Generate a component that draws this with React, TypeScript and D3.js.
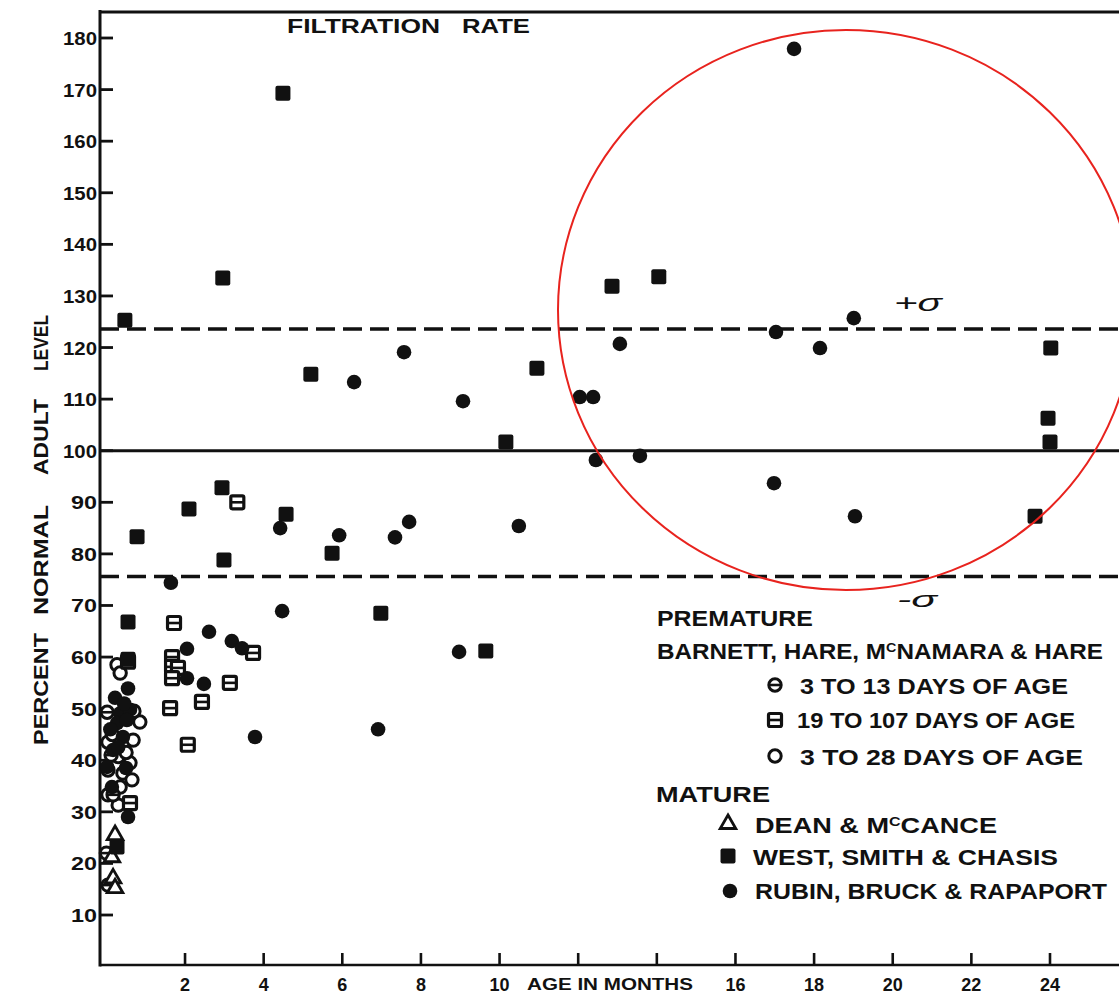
import React from 'react';
import * as d3 from 'd3';

const W = 1119;
const H = 996;

// ---------- DATA (age in months, percent of normal adult level) ----------
// Premature: Barnett, Hare, McNamara & Hare — 3 to 13 days (theta circle)
const thetaMonths = [0.02, 0.0, 0.04, 0.04, 0.17, 0.12];
const thetaPct = [49.3, 22.0, 15.8, 38.1, 33.3, 41.0];

// Premature — 19 to 107 days (boxed square)
const boxMonths = [3.33, 1.72, 1.67, 1.67, 1.82, 1.67, 1.62, 2.43, 3.14, 2.07, 3.73, 0.55, 0.6];
const boxPct = [90.0, 66.6, 60.0, 58.1, 57.9, 55.9, 50.1, 51.3, 55.0, 43.0, 60.8, 59.1, 31.7];

// Premature — 3 to 28 days (open circle)
const openMonths = [0.27, 0.35, 0.85, 0.68, 0.04, 0.3, 0.6, 0.42, 0.65, 0.35, 0.04, 0.3, 0.7, 0.15, 0.5];
const openPct = [58.5, 56.9, 47.4, 43.9, 43.5, 40.7, 39.5, 37.5, 36.2, 34.8, 33.3, 31.3, 49.5, 45.0, 41.5];

// Mature: Dean & McCance (open triangle)
const deanMonths = [0.22, 0.14, 0.17, 0.22];
const deanPct = [25.5, 21.2, 17.1, 15.2];

// Mature: West, Smith & Chasis (filled square)
const wscMonths = [0.47, 4.49, 2.96, 5.2, 0.78, 2.1, 2.94, 4.57, 2.99, 5.74, 6.98, 9.65, 0.55, 10.16, 10.95, 12.86, 14.05, 24.02, 23.95, 24.0, 23.62, 0.27, 0.55];
const wscPct = [125.3, 169.3, 133.5, 114.8, 83.3, 88.7, 92.8, 87.7, 78.8, 80.1, 68.5, 61.2, 66.8, 101.7, 116.0, 131.9, 133.7, 119.9, 106.3, 101.7, 87.3, 23.2, 59.6];

// Mature: Rubin, Bruck & Rapaport (filled circle)
const rbrMonths = [17.49, 7.57, 6.3, 9.07, 12.04, 12.38, 13.06, 12.45, 13.57, 17.03, 18.15, 19.01, 16.98, 19.04, 10.49, 4.42, 5.92, 7.34, 7.7, 1.64, 4.47, 2.61, 2.05, 3.19, 3.45, 8.97, 2.05, 2.48, 3.78, 6.91, 0.55, 0.55, 0.22, 0.35, 0.6, 0.27, 0.52, 0.42, 0.17, 0.02, 0.14, 0.45, 0.3, 0.1, 0.5];
const rbrPct = [177.9, 119.1, 113.3, 109.6, 110.4, 110.4, 120.7, 98.2, 99.0, 123.0, 119.9, 125.7, 93.7, 87.3, 85.4, 85.0, 83.6, 83.2, 86.2, 74.4, 68.9, 64.9, 61.6, 63.1, 61.7, 61.0, 55.9, 54.8, 44.5, 46.0, 53.9, 29.0, 52.1, 49.1, 49.8, 47.2, 47.8, 44.5, 42.0, 38.7, 34.8, 51.0, 42.5, 46.0, 38.5];

// Reference levels
const adultLevel = 100;
const plusSigma = 123.6;
const minusSigma = 75.6;

// Tick labels
const yTicks = [10, 20, 30, 40, 50, 60, 70, 80, 90, 100, 110, 120, 130, 140, 150, 160, 170, 180];
const xTicks = [2, 4, 6, 8, 10, 12, 14, 16, 18, 20, 22, 24];
const xTickLabels = [2, 4, 6, 8, 10, 16, 18, 20, 22, 24];

// ---------- SCALES ----------
const x = d3.scaleLinear().domain([0, 24]).range([106.4, 1050]);
const y = d3.scaleLinear().domain([0, 180]).range([966.6, 38]);

const AX_LEFT = 100;
const AX_RIGHT = W;
const AX_TOP = 12;
const AX_BOTTOM = 965;
const INK = '#111';

type Kind = 'theta' | 'box' | 'open' | 'tri' | 'sq' | 'dot';

const triPath = d3.symbol().type(d3.symbolTriangle).size(105)() as string;

function Marker({ kind, cx, cy }: { kind: Kind; cx: number; cy: number }) {
  switch (kind) {
    case 'sq':
      return <rect x={cx - 7.5} y={cy - 7.5} width={15} height={15} rx={2} fill={INK} />;
    case 'dot':
      return <circle cx={cx} cy={cy} r={7.3} fill={INK} />;
    case 'open':
      return <circle cx={cx} cy={cy} r={6.2} fill="#fff" stroke={INK} strokeWidth={3} />;
    case 'theta':
      return (
        <g>
          <circle cx={cx} cy={cy} r={6.2} fill="#fff" stroke={INK} strokeWidth={3} />
          <line x1={cx - 6} x2={cx + 6} y1={cy} y2={cy} stroke={INK} strokeWidth={2.6} />
        </g>
      );
    case 'box':
      return (
        <g>
          <rect x={cx - 6.5} y={cy - 6.5} width={13} height={13} rx={1.5} fill="#fff" stroke={INK} strokeWidth={3.2} />
          <line x1={cx - 6} x2={cx + 6} y1={cy} y2={cy} stroke={INK} strokeWidth={2.6} />
        </g>
      );
    case 'tri':
      return <path d={triPath} transform={`translate(${cx},${cy})`} fill="#fff" stroke={INK} strokeWidth={2.8} />;
  }
  return null;
}

const series: { kind: Kind; months: number[]; pct: number[] }[] = [
  { kind: 'open', months: openMonths, pct: openPct },
  { kind: 'theta', months: thetaMonths, pct: thetaPct },
  { kind: 'box', months: boxMonths, pct: boxPct },
  { kind: 'tri', months: deanMonths, pct: deanPct },
  { kind: 'sq', months: wscMonths, pct: wscPct },
  { kind: 'dot', months: rbrMonths, pct: rbrPct },
];

export default function App() {
  const font = "'Liberation Sans', Arial, sans-serif";
  const legendText = {
    fontSize: 22,
    fontWeight: 700,
    fill: INK,
  } as const;
  return (
    <svg
      width={W}
      height={H}
      viewBox={`0 0 ${W} ${H}`}
      style={{ position: 'absolute', left: 0, top: 0, background: '#fff' }}
      fontFamily={font}
    >
      <rect x={0} y={0} width={W} height={H} fill="#fff" />

      {/* Frame */}
      <line x1={AX_LEFT} x2={AX_RIGHT} y1={AX_TOP} y2={AX_TOP} stroke={INK} strokeWidth={3} />
      <line x1={AX_LEFT} x2={AX_LEFT} y1={AX_TOP - 2} y2={AX_BOTTOM + 1.5} stroke={INK} strokeWidth={3} />
      <line x1={AX_LEFT} x2={AX_RIGHT} y1={AX_BOTTOM} y2={AX_BOTTOM} stroke={INK} strokeWidth={2.6} />

      {/* Y ticks */}
      {yTicks.map((t) => (
        <g key={`yt${t}`}>
          <line x1={AX_LEFT} x2={AX_LEFT + 13} y1={y(t)} y2={y(t)} stroke={INK} strokeWidth={2.8} />
          <text
            x={97}
            y={y(t) + 7}
            textAnchor="end"
            fontSize={18}
            fontWeight={700}
            fill={INK}
            textLength={t >= 100 ? 34 : 26}
            lengthAdjust="spacingAndGlyphs"
          >
            {t}
          </text>
        </g>
      ))}

      {/* X ticks */}
      {xTicks.map((t) => (
        <line key={`xt${t}`} x1={x(t)} x2={x(t)} y1={AX_BOTTOM} y2={AX_BOTTOM - 12} stroke={INK} strokeWidth={2.6} />
      ))}
      {xTickLabels.map((t) => (
        <text key={`xl${t}`} x={x(t)} y={991} textAnchor="middle" fontSize={18} fontWeight={700} fill={INK}>
          {t}
        </text>
      ))}
      <text x={527} y={990} fontSize={16} fontWeight={700} fill={INK} textLength={166} lengthAdjust="spacingAndGlyphs">
        AGE IN MONTHS
      </text>

      {/* Reference lines */}
      <line x1={AX_LEFT} x2={AX_RIGHT} y1={y(adultLevel)} y2={y(adultLevel)} stroke={INK} strokeWidth={3} />
      <line x1={AX_LEFT} x2={AX_RIGHT} y1={y(plusSigma)} y2={y(plusSigma)} stroke={INK} strokeWidth={3.5} strokeDasharray="19 8" />
      <line x1={AX_LEFT} x2={AX_RIGHT} y1={y(minusSigma)} y2={y(minusSigma)} stroke={INK} strokeWidth={3.5} strokeDasharray="19 8" />
      <text x={894} y={311} fontSize={24} fontWeight={400} fontStyle="italic" fill={INK} textLength={48} lengthAdjust="spacingAndGlyphs">
        +σ
      </text>
      <text x={897} y={607} fontSize={22} fontWeight={400} fontStyle="italic" fill={INK} textLength={40} lengthAdjust="spacingAndGlyphs">
        -σ
      </text>

      {/* Title */}
      <text x={287} y={33} fontSize={21} fontWeight={700} fill={INK} textLength={153} lengthAdjust="spacingAndGlyphs">
        FILTRATION
      </text>
      <text x={462} y={33} fontSize={21} fontWeight={700} fill={INK} textLength={68} lengthAdjust="spacingAndGlyphs">
        RATE
      </text>

      {/* Y-axis label (rotated, word by word) */}
      {[
        { w: 'PERCENT', c: 689, len: 112 },
        { w: 'NORMAL', c: 560, len: 110 },
        { w: 'ADULT', c: 437, len: 76 },
        { w: 'LEVEL', c: 343, len: 56 },
      ].map((d) => (
        <text
          key={d.w}
          transform={`translate(48,${d.c}) rotate(-90)`}
          textAnchor="middle"
          fontSize={21}
          fontWeight={700}
          fill={INK}
          textLength={d.len}
          lengthAdjust="spacingAndGlyphs"
        >
          {d.w}
        </text>
      ))}

      {/* Data points */}
      {series.map((s) =>
        s.months.map((m, i) => <Marker key={`${s.kind}${i}`} kind={s.kind} cx={x(m)} cy={y(s.pct[i])} />)
      )}

      {/* Legend */}
      <g {...legendText}>
        <text x={657} y={626} textLength={156} lengthAdjust="spacingAndGlyphs">PREMATURE</text>
        <text x={657} y={659} textLength={446} lengthAdjust="spacingAndGlyphs">
          BARNETT, HARE, M<tspan fontSize={13} dy={-7}>C</tspan><tspan dy={7}>NAMARA &amp; HARE</tspan>
        </text>
        <text x={800} y={694} textLength={268} lengthAdjust="spacingAndGlyphs">3 TO 13  DAYS OF  AGE</text>
        <text x={797} y={728} textLength={278} lengthAdjust="spacingAndGlyphs">19 TO 107 DAYS OF AGE</text>
        <text x={800} y={765} textLength={283} lengthAdjust="spacingAndGlyphs">3 TO 28 DAYS OF AGE</text>
        <text x={656} y={802} textLength={114} lengthAdjust="spacingAndGlyphs">MATURE</text>
        <text x={755} y={833} textLength={242} lengthAdjust="spacingAndGlyphs">
          DEAN &amp;  M<tspan fontSize={13} dy={-7}>C</tspan><tspan dy={7}>CANCE</tspan>
        </text>
        <text x={753} y={865} textLength={305} lengthAdjust="spacingAndGlyphs">WEST, SMITH &amp; CHASIS</text>
        <text x={755} y={899} textLength={352} lengthAdjust="spacingAndGlyphs">RUBIN, BRUCK &amp;  RAPAPORT</text>
      </g>
      <Marker kind="theta" cx={775} cy={685} />
      <Marker kind="box" cx={775} cy={720} />
      <Marker kind="open" cx={775} cy={756} />
      <Marker kind="tri" cx={728} cy={824} />
      <Marker kind="sq" cx={728} cy={856} />
      <Marker kind="dot" cx={730} cy={891} />

      {/* Red annotation ellipse */}
      <ellipse cx={846} cy={310} rx={288} ry={280} fill="none" stroke="#e8231e" strokeWidth={2} />
    </svg>
  );
}
